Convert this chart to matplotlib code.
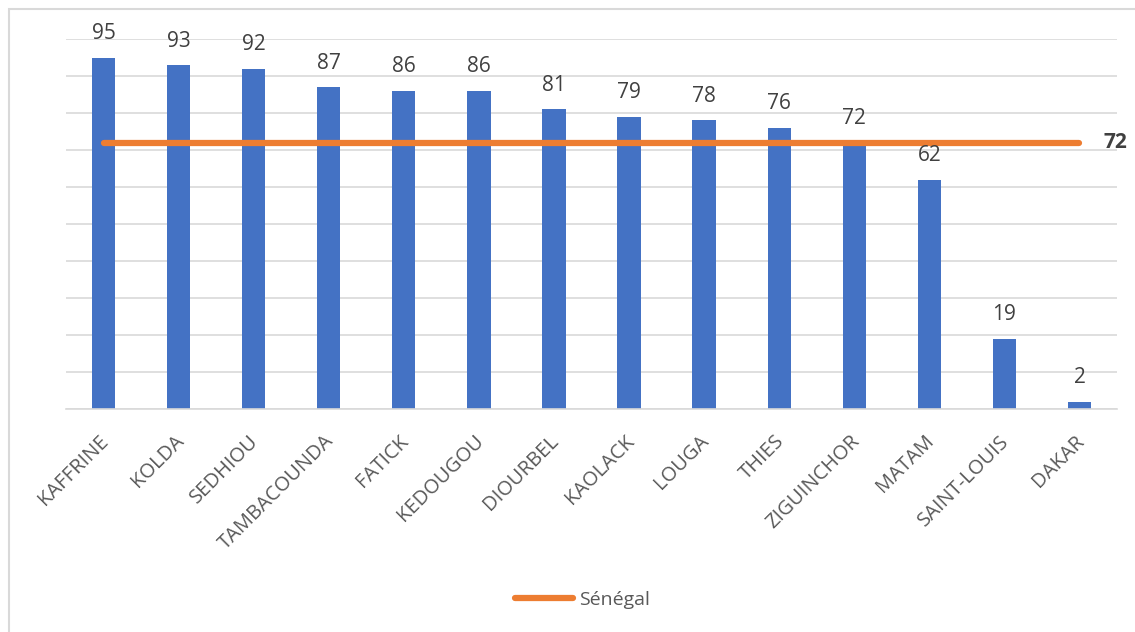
import numpy as np
import matplotlib
matplotlib.use("Agg")
import matplotlib.pyplot as plt
import matplotlib.transforms as mtransforms
from matplotlib.patches import Rectangle

regions = ["KAFFRINE", "KOLDA", "SEDHIOU", "TAMBACOUNDA", "FATICK", "KEDOUGOU",
           "DIOURBEL", "KAOLACK", "LOUGA", "THIES", "ZIGUINCHOR", "MATAM",
           "SAINT-LOUIS", "DAKAR"]
values = [95, 93, 92, 87, 86, 86, 81, 79, 78, 76, 72, 62, 19, 2]
senegal = 72

blue = "#4472C4"
orange = "#ED7D31"
grey = "#595959"

plt.rcParams['font.family'] = ['Open Sans', 'DejaVu Sans']

fig = plt.figure(figsize=(11.35, 6.32), dpi=100)
ax = fig.add_axes([66/1135, 1-409/632, (1117-66)/1135, (409-39)/632])

x = np.arange(len(regions))
ax.bar(x, values, width=0.31, color=blue, zorder=2)
ax.plot([x[0], x[-1]], [senegal, senegal], color=orange, lw=4.5,
        solid_capstyle='round', zorder=3, label="Sénégal")

for xi, v in zip(x, values):
    ax.text(xi, v + 3.6, str(v), ha='center', va='bottom', fontsize=15, color="#404040")
ax.text(x[-1] + 0.48, senegal, str(senegal), ha='center', va='center',
        fontsize=15, fontweight='bold', color="#404040")

ax.set_xlim(-0.5, len(regions) - 0.5)
ax.set_ylim(0, 100)
ax.set_yticks(np.arange(0, 101, 10))
ax.yaxis.grid(True, color="#D9D9D9", lw=1.2, zorder=0)
ax.tick_params(axis='y', left=False, labelleft=False)
ax.tick_params(axis='x', length=0, pad=16)
ax.set_xticks(x)
ax.set_xticklabels(regions, rotation=45, ha='right', rotation_mode='anchor',
                   fontsize=14.5, color=grey)
shift = mtransforms.ScaledTranslation(-5/100, 0, fig.dpi_scale_trans)
for lab in ax.get_xticklabels():
    lab.set_transform(lab.get_transform() + shift)
for s in ['top', 'right', 'left']:
    ax.spines[s].set_visible(False)
ax.spines['bottom'].set_color("#D9D9D9")
ax.spines['bottom'].set_linewidth(1.2)

leg = fig.legend(loc='center', bbox_to_anchor=(0.513, 1-600/632), frameon=False,
                 fontsize=14, handlelength=3.0, handletextpad=0.3)
for t in leg.get_texts():
    t.set_color(grey)

fig.patches.append(Rectangle((9/1135, -0.2), 1.2, 1.2 - 9/632,
                             transform=fig.transFigure, fill=False,
                             edgecolor="#D9D9D9", lw=1.5))

fig.savefig("out.png", dpi=100)
